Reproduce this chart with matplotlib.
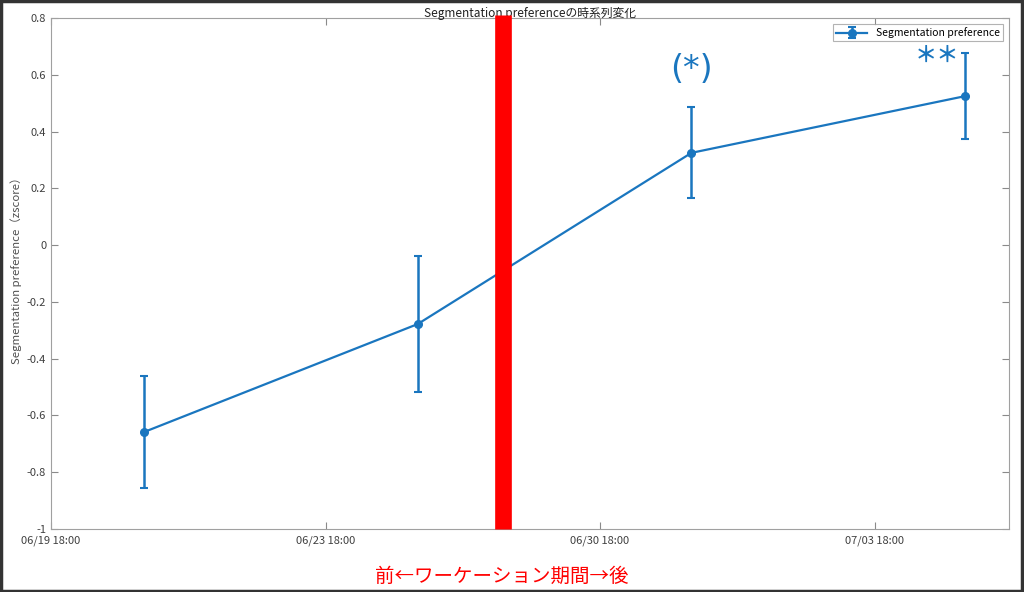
import matplotlib
matplotlib.use("Agg")
import matplotlib.pyplot as plt
from matplotlib.patches import Rectangle

plt.rcParams['font.family'] = ['Noto Sans CJK JP', 'DejaVu Sans']

# Data
x_pos = [0.34, 1.336, 2.333, 3.331]
values = [-0.658, -0.278, 0.325, 0.525]
errors = [0.197, 0.238, 0.16, 0.15]
tick_pos = [0, 1, 2, 3]
tick_labels = ['06/19 18:00', '06/23 18:00', '06/30 18:00', '07/03 18:00']
yticks = [-1, -0.8, -0.6, -0.4, -0.2, 0, 0.2, 0.4, 0.6, 0.8]
ytick_labels = ['-1', '-0.8', '-0.6', '-0.4', '-0.2', '0', '0.2', '0.4', '0.6', '0.8']
boundary_x = 1.645

blue = '#1a76bf'
fig = plt.figure(figsize=(10.24, 5.92), dpi=100)
ax = fig.add_axes([0.0498, 0.1064, 0.9356, 0.8632])

ax.errorbar(x_pos, values, yerr=errors, color=blue, lw=1.6, marker='o', ms=5.5,
            capsize=3, capthick=1.5, elinewidth=1.8, label='Segmentation preference', zorder=3)
ax.axvline(boundary_x, ymin=0, ymax=1.006, color='red', lw=12, clip_on=False, zorder=4,
           solid_capstyle='butt')

ax.set_xlim(0, 3.49)
ax.set_ylim(-1, 0.8)
ax.set_xticks(tick_pos)
ax.set_xticklabels(tick_labels)
ax.set_yticks(yticks)
ax.set_yticklabels(ytick_labels)
ax.tick_params(direction='in', top=True, right=True, labelsize=8, colors='#8a8a8a',
               labelcolor='#404040', length=5, width=0.8)
ax.tick_params(axis='x', pad=5)
for s in ax.spines.values():
    s.set_color('#a0a0a0')
    s.set_linewidth(0.8)

ax.set_title('Segmentation preferenceの時系列変化', fontsize=8.5, color='#202020', pad=1)
ax.set_ylabel('Segmentation preference（zscore）', fontsize=8.2, color='#505050')
ax.yaxis.set_label_coords(-0.030, 0.511)

ax.text(2.333, 0.617, '(*)', color=blue, fontsize=24, ha='center', va='center',
        family=['DejaVu Sans'])
ax.text(3.229, 0.668, '＊＊', color=blue, fontsize=16, ha='center', va='center',
        fontweight='bold')

leg = ax.legend(loc='upper right', fontsize=7.5, frameon=True, fancybox=False,
                edgecolor='#a0a0a0', borderaxespad=0.6, handlelength=3,
                borderpad=0.3)
leg.get_frame().set_linewidth(0.8)

fig.text(0.49, 0.027, '前←ワーケーション期間→後', color='red', fontsize=14, ha='center',
         va='center')

fig.patches.append(Rectangle((0.001, 0.002), 0.997, 0.996, transform=fig.transFigure,
                             fill=False, edgecolor='#333333', lw=2.5))

fig.savefig('out.png', dpi=100)
